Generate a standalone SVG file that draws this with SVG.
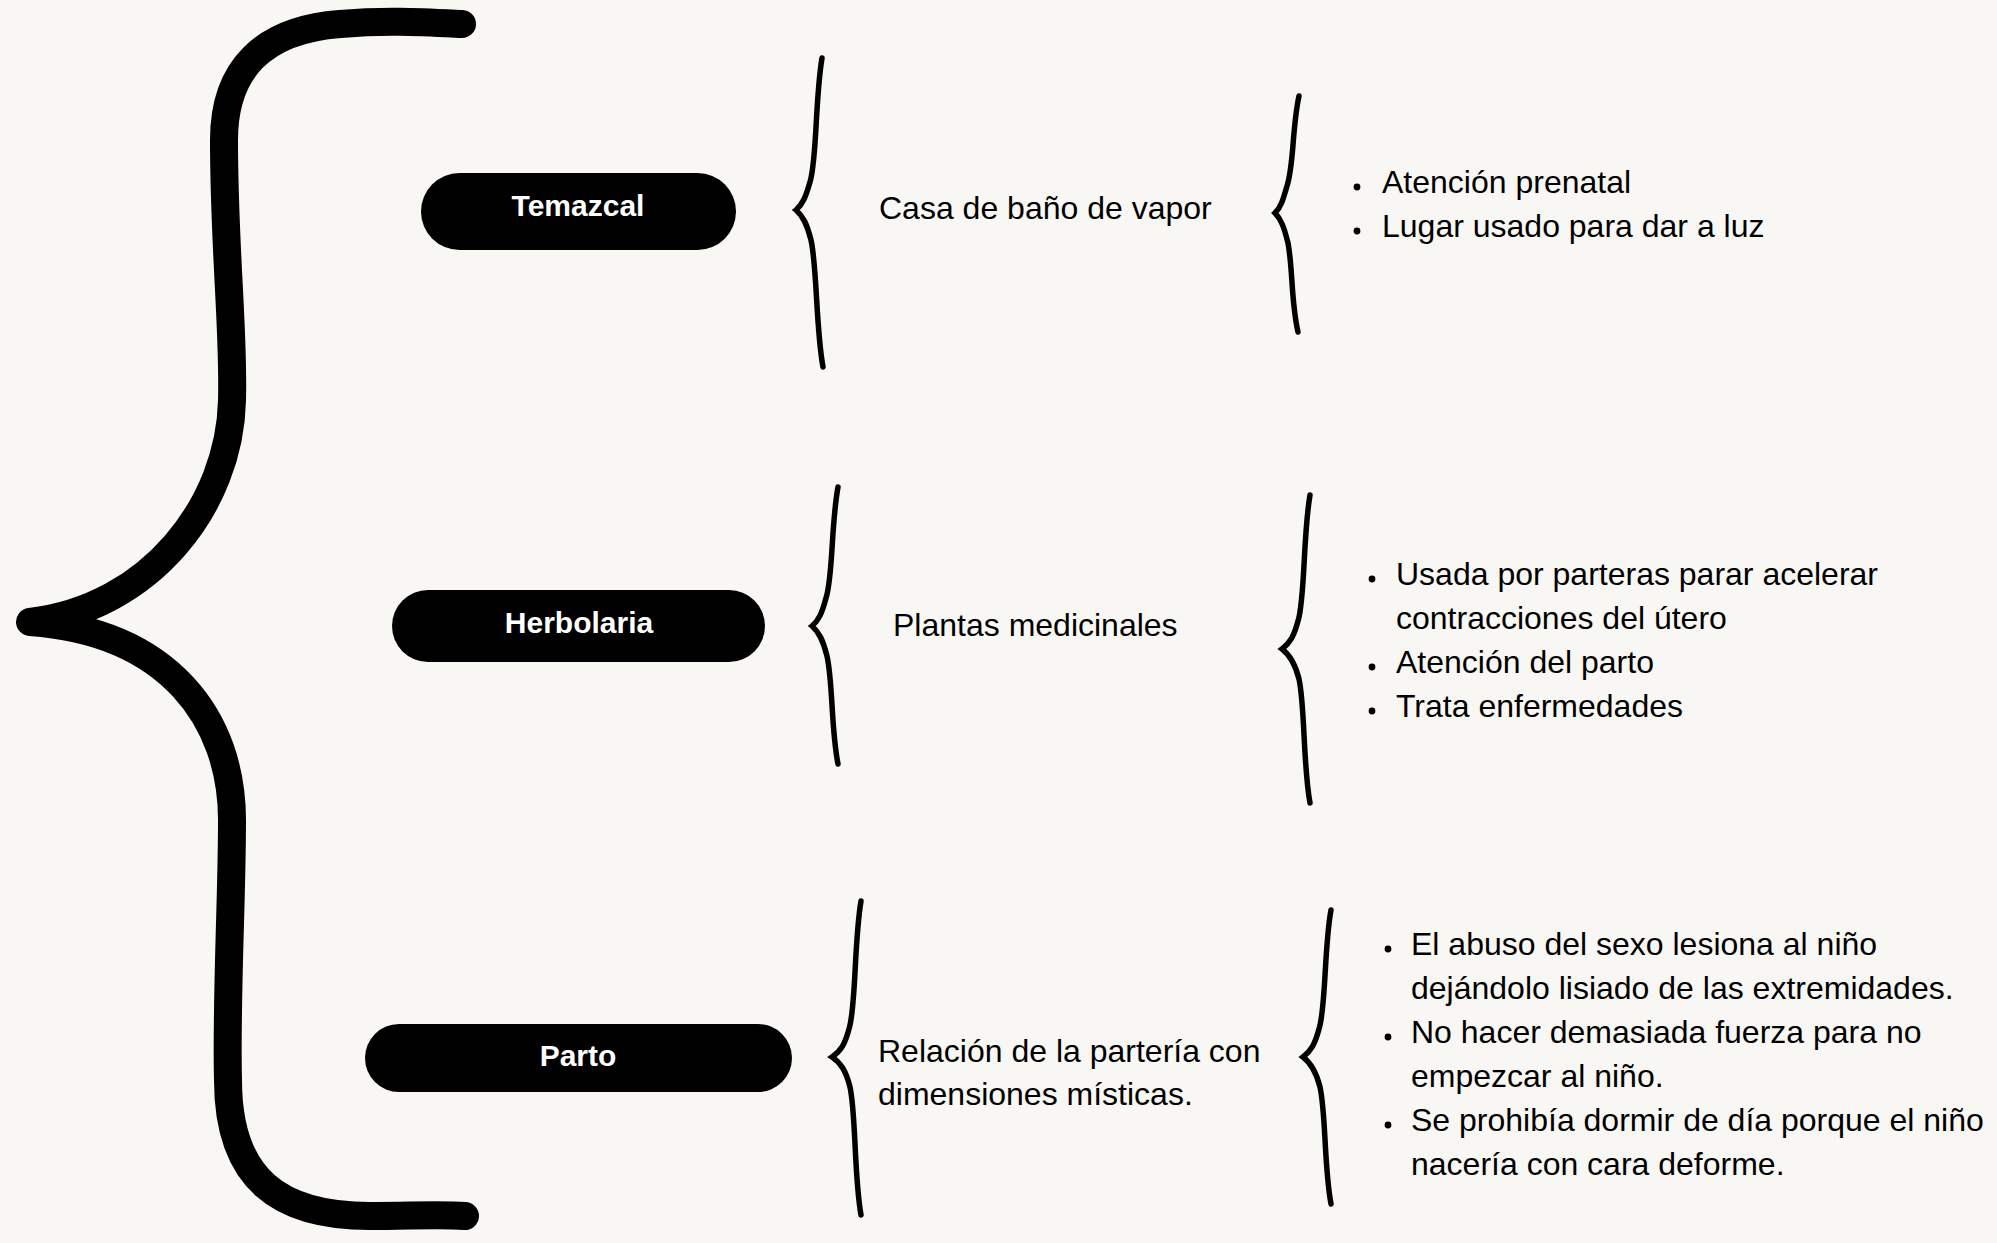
<svg xmlns="http://www.w3.org/2000/svg" width="1997" height="1243" viewBox="0 0 1997 1243">
  <style>
    .bg { fill: #f8f7f4; }
    .pill { fill: #000000; }
    .label { font-family: "Liberation Sans", Arial, sans-serif; font-size: 30px; font-weight: bold; fill: #ffffff; text-anchor: middle; }
    .txt { font-family: "Liberation Sans", Arial, sans-serif; font-size: 32px; fill: #000000; }
    .big { fill: none; stroke: #000000; stroke-width: 28; stroke-linecap: round; stroke-linejoin: round; }
    .brace { fill: none; stroke: #000000; stroke-width: 5.5; stroke-linecap: round; stroke-linejoin: miter; }
    .dot { fill: #000000; }
  </style>
  <rect class="bg" x="0" y="0" width="1997" height="1243"/>

  <g id="connectors">
    <path id="brace-main" class="big" d="M 462,24 C 420,22 385,20 340,24 C 262,30 224,70 224,140 C 224,250 234,330 232,400 C 230,505 150,608 30,622 C 170,632 232,720 232,820 C 232,900 226,1000 228,1080 C 228,1180 280,1216 370,1216 C 410,1216 440,1214 465,1216"/>
    <path id="brace-temazcal-1" class="brace" d="M 822,58 C 815,100 817,160 810,182 C 806,196 803,204 796,210 C 803,216 807,224 811,240 C 817,266 816,330 823,367"/>
    <path id="brace-temazcal-2" class="brace" d="M 1299,96 C 1292,128 1294,165 1287,186 C 1283,200 1281,207 1275,213 C 1281,219 1284,227 1288,243 C 1293,270 1291,302 1298,332"/>
    <path id="brace-herbolaria-1" class="brace" d="M 838,487 C 831,525 833,577 826,598 C 822,613 819,620 812,626 C 819,632 823,640 827,656 C 833,683 831,729 838,764"/>
    <path id="brace-herbolaria-2" class="brace" d="M 1310,495 C 1303,535 1305,600 1298,621 C 1294,636 1290,643 1282,649 C 1290,655 1295,663 1299,679 C 1305,706 1303,765 1310,803"/>
    <path id="brace-parto-1" class="brace" d="M 861,901 C 854,942 856,1008 849,1029 C 845,1044 841,1051 832,1057 C 841,1063 846,1071 850,1087 C 856,1114 854,1176 861,1215"/>
    <path id="brace-parto-2" class="brace" d="M 1331,910 C 1324,948 1326,1008 1319,1029 C 1315,1044 1311,1051 1303,1057 C 1311,1063 1316,1071 1320,1087 C 1326,1114 1324,1167 1331,1204"/>
  </g>

  <g id="node-temazcal">
    <rect class="pill" x="421" y="173" width="315" height="77" rx="38.5"/>
    <text class="label" x="578" y="216">Temazcal</text>
  </g>
  <g id="node-herbolaria">
    <rect class="pill" x="392" y="590" width="373" height="72" rx="36"/>
    <text class="label" x="579" y="633">Herbolaria</text>
  </g>
  <g id="node-parto">
    <rect class="pill" x="365" y="1024" width="427" height="68" rx="34"/>
    <text class="label" x="578" y="1066">Parto</text>
  </g>

  <g id="node-casa">
    <text class="txt" x="879" y="219">Casa de baño de vapor</text>
  </g>
  <g id="node-plantas">
    <text class="txt" x="893" y="636">Plantas medicinales</text>
  </g>
  <g id="node-relacion">
    <text class="txt" x="878" y="1062">Relación de la partería con</text>
    <text class="txt" x="878" y="1105">dimensiones místicas.</text>
  </g>

  <g id="node-temazcal-list">
    <circle class="dot" cx="1357" cy="187" r="3.4"/>
    <circle class="dot" cx="1357" cy="231" r="3.4"/>
    <text class="txt" x="1382" y="193">Atención prenatal</text>
    <text class="txt" x="1382" y="237">Lugar usado para dar a luz</text>
  </g>
  <g id="node-herbolaria-list">
    <circle class="dot" cx="1372" cy="579" r="3.4"/>
    <circle class="dot" cx="1372" cy="667" r="3.4"/>
    <circle class="dot" cx="1372" cy="711" r="3.4"/>
    <text class="txt" x="1396" y="585">Usada por parteras parar acelerar</text>
    <text class="txt" x="1396" y="629">contracciones del útero</text>
    <text class="txt" x="1396" y="673">Atención del parto</text>
    <text class="txt" x="1396" y="717">Trata enfermedades</text>
  </g>
  <g id="node-parto-list">
    <circle class="dot" cx="1388" cy="949" r="3.4"/>
    <circle class="dot" cx="1388" cy="1037" r="3.4"/>
    <circle class="dot" cx="1388" cy="1125" r="3.4"/>
    <text class="txt" x="1411" y="955">El abuso del sexo lesiona al niño</text>
    <text class="txt" x="1411" y="999">dejándolo lisiado de las extremidades.</text>
    <text class="txt" x="1411" y="1043">No hacer demasiada fuerza para no</text>
    <text class="txt" x="1411" y="1087">empezcar al niño.</text>
    <text class="txt" x="1411" y="1131">Se prohibía dormir de día porque el niño</text>
    <text class="txt" x="1411" y="1175">nacería con cara deforme.</text>
  </g>
</svg>
